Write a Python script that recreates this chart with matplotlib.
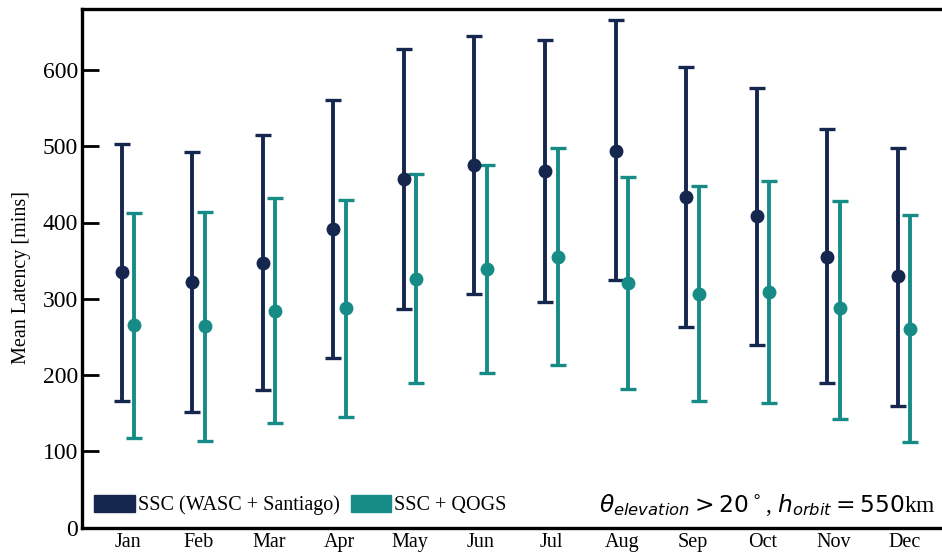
import matplotlib
matplotlib.use("Agg")
import matplotlib.pyplot as plt
from matplotlib.patches import Patch
import numpy as np

months = ["Jan", "Feb", "Mar", "Apr", "May", "Jun", "Jul", "Aug", "Sep", "Oct", "Nov", "Dec"]

wasc_mean = [335, 322, 347, 392, 457, 476, 468, 494, 434, 409, 355, 330]
wasc_upper = [503, 493, 515, 561, 628, 644, 639, 665, 604, 577, 522, 498]
wasc_lower = [166, 151, 180, 222, 287, 306, 296, 325, 263, 239, 189, 160]

qogs_mean = [265, 264, 284, 288, 326, 339, 355, 321, 306, 309, 288, 260]
qogs_upper = [413, 414, 432, 430, 463, 476, 498, 460, 448, 455, 428, 410]
qogs_lower = [118, 114, 137, 145, 189, 202, 213, 181, 166, 163, 142, 112]

labels = ["SSC (WASC + Santiago)", "SSC + QOGS"]
colors = ["#15264f", "#178c87"]

plt.rcParams["font.family"] = ["Liberation Serif", "DejaVu Serif"]
plt.rcParams["mathtext.fontset"] = "dejavusans"

fig = plt.figure(figsize=(9.42, 5.52), dpi=100)
ax = fig.add_axes([82 / 942, 24.5 / 552, 868 / 942, 518.5 / 552])

x = np.arange(len(months))
off = 0.09
series = [
    (wasc_mean, wasc_lower, wasc_upper, -off),
    (qogs_mean, qogs_lower, qogs_upper, off),
]
for (m, lo, hi, o), c in zip(series, colors):
    m = np.array(m)
    yerr = [m - np.array(lo), np.array(hi) - m]
    ax.errorbar(x + o, m, yerr=yerr, fmt="o", color=c, ecolor=c,
                elinewidth=2.8, capsize=6, capthick=2.4, markersize=9)

ax.set_xlim(-0.65, 11.65)
ax.set_ylim(0, 680)
ax.set_xticks(x)
ax.set_xticklabels(months, fontsize=14.5)
ax.set_yticks([0, 100, 200, 300, 400, 500, 600])
ax.tick_params(axis="y", direction="in", length=12, width=2, labelsize=17, pad=3)
ax.tick_params(axis="x", length=0, pad=4)
for s in ax.spines.values():
    s.set_linewidth(2.4)
ax.set_ylabel("Mean Latency [mins]", fontsize=14.5)
ax.yaxis.set_label_coords(-0.059, 0.483)

handles = [Patch(facecolor=c, edgecolor=c) for c in colors]
ax.legend(handles, labels, loc="lower left", ncol=2, frameon=False,
          fontsize=14.5, handlelength=2.0, handleheight=0.9, handletextpad=0.15,
          columnspacing=0.55, borderaxespad=0.0, bbox_to_anchor=(0.005, 0.008))

fig.text(0.993, (552 - 505) / 552, r"$\theta_{elevation} > 20^\circ$, $h_{orbit} = 550$km",
         ha="right", va="center", fontsize=16.8)

fig.savefig("out.png", dpi=100)
